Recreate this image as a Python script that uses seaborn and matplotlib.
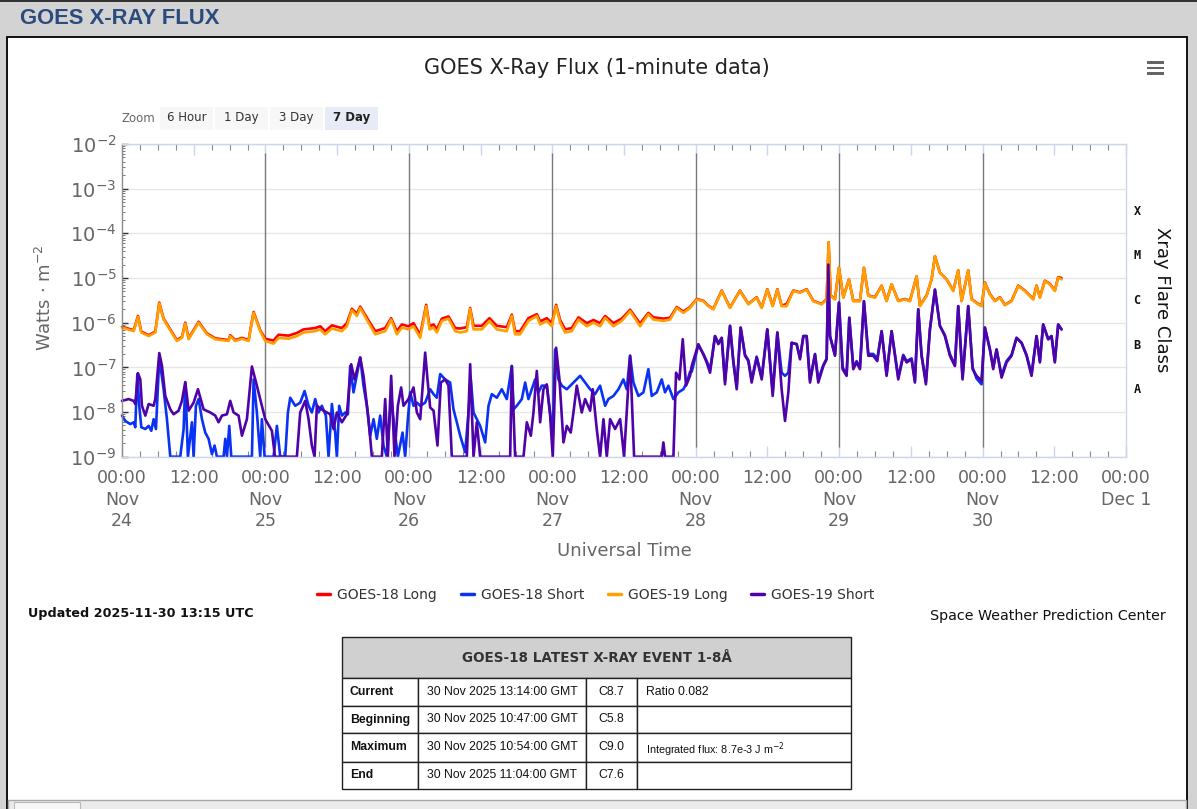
import matplotlib
matplotlib.use("Agg")
import matplotlib.pyplot as plt
import matplotlib.transforms as mtransforms
from matplotlib import font_manager
from matplotlib.patches import Rectangle
from matplotlib.lines import Line2D
from matplotlib.ticker import FixedLocator, LogLocator, NullFormatter
import numpy as np
import seaborn as sns

# -----------------------------
# Data (hours since 2025-11-24 00:00 UTC, log10 of flux in W/m^2)
# -----------------------------
long_hours = [
    0.0, 1.95, 2.67, 3.23, 4.46, 5.57, 6.24, 6.96, 9.19, 10.03, 10.59, 11.15, 12.82, 14.21, 15.61,
    17.84, 18.11, 18.95, 20.07, 21.18, 22.02, 23.13, 23.97,
    25.36, 26.20, 27.87, 29.26, 30.38, 32.33, 33.17, 34.00, 35.12, 36.79, 37.63, 38.46, 39.30, 39.86,
    41.25, 42.37, 44.04, 45.04, 45.99, 46.83, 47.94,
    48.78, 49.90, 50.90, 51.46, 52.13, 52.68, 53.52, 54.63, 55.75, 56.59, 57.70, 58.26, 58.82, 60.21,
    61.49, 62.72, 64.39, 65.23, 65.78, 66.62, 68.01, 69.41, 69.97, 71.08, 71.92,
    72.64, 73.31, 74.15, 75.26, 76.38, 77.77, 78.89, 80.00, 80.84, 82.23, 83.62, 85.02, 86.69, 88.08,
    88.92, 90.59, 91.71, 92.82, 93.94, 95.05,
    96.17, 97.28, 98.12, 98.95, 100.35, 101.74, 103.41, 104.81, 106.20, 107.04, 107.98, 108.88, 109.66,
    110.38, 111.22, 112.33, 113.45, 114.56, 115.68, 117.07, 117.91, 118.24, 118.58, 119.30, 119.97,
    120.70, 121.64, 122.37, 123.48, 124.15, 124.88, 125.99, 127.11, 127.94, 128.78, 129.89, 131.01,
    131.85, 132.96, 133.52, 134.63, 135.47, 136.03, 136.86, 137.98, 139.09, 139.93, 140.49, 141.60,
    142.16, 143.27, 143.83,
    144.39, 145.23, 146.06, 146.90, 147.73, 148.85, 149.96, 151.08, 152.47, 153.03, 153.59, 154.42,
    155.26, 156.09, 156.65, 157.21,
]

g19_long = [
    -6.11, -6.19, -5.87, -6.22, -6.30, -6.22, -5.57, -5.93, -6.41, -6.34, -6.02, -6.37, -6.00, -6.26, -6.37,
    -6.41, -6.30, -6.41, -6.36, -6.41, -5.78, -6.19, -6.41,
    -6.47, -6.34, -6.36, -6.30, -6.22, -6.19, -6.15, -6.26, -6.13, -6.19, -6.08, -5.72, -5.85, -5.67,
    -6.00, -6.26, -6.19, -5.93, -6.26, -6.11, -6.15,
    -6.08, -6.34, -5.63, -6.15, -6.11, -6.22, -5.96, -5.91, -6.19, -6.22, -6.19, -5.69, -6.15, -6.15,
    -5.96, -6.15, -6.19, -5.85, -6.26, -6.26, -5.96, -5.85, -6.04, -5.96, -6.08,
    -5.63, -6.00, -6.22, -6.19, -5.93, -6.08, -6.00, -6.08, -5.89, -6.08, -5.96, -5.74, -6.08, -5.81,
    -5.93, -5.96, -5.93, -5.67, -5.78, -5.67,
    -5.48, -5.52, -5.63, -5.70, -5.29, -5.67, -5.29, -5.59, -5.44, -5.67, -5.26, -5.63, -5.26,
    -5.63, -5.63, -5.29, -5.33, -5.26, -5.52, -5.59, -5.48, -4.20, -5.40, -5.48, -4.77,
    -5.44, -5.03, -5.52, -5.52, -4.77, -5.40, -5.44, -5.18, -5.52, -5.14, -5.52, -5.48,
    -5.52, -4.96, -5.63, -5.40, -5.03, -4.51, -4.88, -5.03, -5.29, -4.83, -5.52, -4.83,
    -5.48, -5.59, -5.63,
    -5.11, -5.37, -5.52, -5.44, -5.61, -5.52, -5.18, -5.29, -5.48, -5.18, -5.44, -5.07,
    -5.14, -5.29, -4.99, -5.03,
]

g18_long = [
    -6.09, -6.17, -5.85, -6.20, -6.28, -6.20, -5.55, -5.91, -6.39, -6.32, -6.00, -6.35, -5.98, -6.24, -6.35,
    -6.39, -6.28, -6.39, -6.34, -6.39, -5.76, -6.17, -6.36,
    -6.40, -6.27, -6.29, -6.23, -6.15, -6.12, -6.08, -6.19, -6.06, -6.12, -6.01, -5.69, -5.80, -5.64,
    -5.95, -6.19, -6.12, -5.90, -6.19, -6.04, -6.08,
    -6.01, -6.27, -5.60, -6.08, -6.04, -6.15, -5.91, -5.86, -6.12, -6.13, -6.10, -5.67, -6.07, -6.07,
    -5.90, -6.07, -6.10, -5.82, -6.19, -6.19, -5.90, -5.81, -5.97, -5.90, -6.01,
    -5.60, -5.94, -6.15, -6.12, -5.88, -6.01, -5.94, -6.01, -5.85, -6.01, -5.91, -5.71, -6.02, -5.78,
    -5.88, -5.91, -5.89, -5.65, -5.75, -5.65,
    -5.47, -5.51, -5.62, -5.69, -5.28, -5.66, -5.28, -5.58, -5.43, -5.66, -5.25, -5.62, -5.25,
    -5.62, -5.58, -5.28, -5.32, -5.25, -5.51, -5.58, -5.47, -4.20, -5.39, -5.47, -4.77,
    -5.43, -5.03, -5.51, -5.51, -4.77, -5.39, -5.43, -5.17, -5.51, -5.14, -5.51, -5.47,
    -5.51, -4.96, -5.62, -5.39, -5.03, -4.51, -4.88, -5.03, -5.28, -4.83, -5.51, -4.83,
    -5.47, -5.58, -5.62,
    -5.10, -5.36, -5.51, -5.43, -5.60, -5.51, -5.17, -5.28, -5.47, -5.17, -5.43, -5.06,
    -5.13, -5.28, -4.98, -5.00,
]

# short channel, first four days (values of -9.0 sit on the plot floor)
g19_short_early_hours = [
    0.0, 1.11, 1.95, 2.22, 2.67, 3.06, 3.34, 3.90, 4.46, 5.29, 5.57, 6.24, 6.69, 7.24, 8.08, 8.64,
    9.47, 10.03, 10.59, 11.15, 11.98, 12.71, 13.65, 14.77, 15.61, 16.16, 16.72, 17.56, 18.11, 18.67,
    19.51, 20.07, 20.90, 21.74, 22.30, 23.13, 23.97, 25.08, 25.60, 29.26, 29.82, 30.66, 31.22, 31.77,
    32.22, 32.61, 33.72, 34.84, 35.40, 35.95, 36.79, 37.63, 38.35, 38.91, 39.86, 40.41, 41.25, 41.81,
    43.48, 44.04, 44.48, 45.04, 45.60, 46.16, 46.71, 47.10, 47.94, 48.78, 49.34, 49.90, 50.73, 51.12,
    51.57, 52.13, 52.79, 53.35, 54.08, 54.63, 55.19, 57.70, 58.26, 58.82, 59.37, 59.93, 64.95, 65.23,
    65.78, 67.18, 67.74, 68.41, 68.85, 69.41, 69.97, 70.52, 71.08, 71.64, 72.08, 72.64, 73.20, 73.87,
    74.43, 75.09, 75.54, 76.10, 76.93, 77.49, 78.33, 78.77, 79.44, 80.00, 80.56, 81.12, 81.67, 82.51,
    83.35, 84.01, 85.02, 85.69, 90.31, 90.59, 90.87, 92.27, 92.71, 93.27, 93.83, 94.38, 95.05,
]
g19_short_early = [
    -7.75, -7.71, -7.75, -7.82, -7.13, -7.27, -7.86, -8.08, -7.82, -7.86, -7.71, -6.68, -6.97, -7.64, -7.94, -8.05,
    -7.97, -7.75, -7.33, -7.97, -7.79, -7.49, -7.94, -8.01, -8.08, -8.23, -8.08, -8.05, -7.75, -8.01,
    -8.08, -8.53, -8.16, -6.98, -7.27, -7.71, -8.16, -8.42, -9.00, -9.00, -8.01, -7.75, -8.16, -8.75,
    -9.00, -7.86, -7.97, -8.05, -8.38, -8.01, -8.23, -8.05, -6.93, -7.27, -6.78, -7.19, -8.16, -9.00,
    -9.00, -7.71, -9.00, -7.19, -9.00, -7.86, -7.45, -7.86, -7.71, -7.45, -8.01, -8.16, -6.67, -7.27,
    -7.90, -7.97, -8.75, -7.34, -7.27, -7.41, -9.00, -9.00, -6.93, -9.00, -8.23, -9.00, -9.00, -6.97,
    -9.00, -9.00, -8.23, -8.53, -8.01, -7.08, -8.23, -7.49, -7.38, -8.08, -9.00, -6.56, -7.27, -8.68,
    -8.31, -8.46, -8.01, -7.41, -8.01, -7.71, -7.97, -7.49, -8.38, -9.00, -8.16, -9.00, -8.16, -8.38,
    -8.16, -9.00, -6.74, -9.00, -9.00, -8.68, -9.00, -9.00, -7.12, -7.27, -6.37, -7.41, -7.19,
]

g18_short_early_hours = [
    0.0, 0.55, 1.39, 1.95, 2.22, 2.56, 2.89, 3.23, 3.90, 4.46, 4.90, 5.29, 5.68, 6.24, 6.96, 7.52,
    8.08, 9.75, 10.31, 10.59, 11.03, 11.70, 11.98, 12.37, 12.82, 13.38, 13.93, 14.49, 15.05, 15.49,
    15.88, 17.00, 17.28, 17.56, 17.95, 18.28, 21.74, 22.02, 22.57, 23.13, 23.41, 23.86, 25.36, 25.92,
    26.48, 27.31, 27.76, 28.15, 28.99, 29.82, 30.55, 31.22, 31.77, 32.33, 32.89, 33.44, 34.11, 34.56,
    35.12, 35.67, 35.95, 36.34, 36.79, 37.35, 37.79, 38.18, 38.74, 39.86, 40.41, 40.97, 41.53, 42.09,
    42.64, 43.20, 43.76, 44.32, 45.04, 45.60, 46.16, 46.94, 47.38, 47.83, 48.22, 48.78, 49.34, 49.90,
    50.73, 51.57, 52.13, 52.68, 53.24, 54.08, 54.91, 55.47, 56.03, 56.59, 57.42, 57.98, 58.37, 58.82,
    59.37, 59.93, 60.77, 61.33, 61.88, 62.72, 63.55, 64.39, 65.23, 65.51, 66.06, 66.90, 67.46, 68.01,
    68.57, 69.13, 69.69, 70.24, 71.08, 71.64, 72.08, 72.47, 73.03, 73.59, 74.43, 75.54, 76.66, 77.49,
    78.33, 79.16, 80.00, 80.84, 81.39, 82.23, 83.07, 83.90, 84.46, 85.02, 85.58, 86.41, 87.25, 88.08,
    88.64, 89.48, 90.31, 90.87, 91.43, 92.27, 93.10, 93.94, 94.50, 95.05,
]
g18_short_early = [
    -8.08, -8.20, -8.27, -8.23, -8.34, -7.15, -7.86, -8.34, -8.38, -8.31, -8.42, -8.16, -8.38, -6.78, -7.49, -8.16,
    -9.00, -9.00, -8.38, -7.34, -9.00, -8.23, -9.00, -7.86, -7.71, -8.16, -8.46, -8.60, -8.94, -8.75,
    -9.00, -9.00, -8.60, -9.00, -8.31, -9.00, -9.00, -7.27, -8.01, -9.00, -8.16, -9.00, -9.00, -8.31,
    -9.00, -9.00, -8.01, -7.68, -7.86, -7.79, -7.53, -7.86, -8.01, -7.71, -8.01, -7.86, -8.08, -9.00,
    -7.82, -8.46, -9.00, -7.86, -8.08, -8.01, -8.05, -6.97, -7.56, -6.78, -7.41, -7.86, -8.53, -8.16,
    -8.60, -8.08, -8.75, -9.00, -7.64, -8.38, -9.00, -8.46, -9.00, -8.16, -7.56, -7.86, -7.79, -7.86,
    -7.79, -7.49, -7.60, -7.68, -7.15, -7.27, -7.34, -7.94, -8.23, -8.53, -8.90, -8.01, -7.27, -8.01,
    -8.16, -8.31, -8.68, -7.86, -7.60, -7.68, -7.49, -7.71, -6.97, -7.94, -7.86, -7.71, -7.34, -7.71,
    -7.49, -7.27, -7.56, -7.41, -7.41, -8.01, -8.53, -6.60, -7.27, -7.41, -7.49, -7.34, -7.19, -7.34,
    -7.49, -7.60, -7.41, -7.86, -7.71, -7.64, -7.49, -7.27, -7.49, -6.74, -7.34, -7.64, -7.56, -7.04,
    -7.64, -7.56, -7.27, -7.56, -7.41, -7.71, -7.56, -7.49, -7.34, -7.10,
]

# short channel, last three days
short_late_hours = [
    95.33, 96.44, 97.28, 97.84, 98.40, 99.23, 99.79, 100.35, 100.90, 101.74, 102.30, 102.86, 103.52,
    104.25, 104.81, 105.36, 106.20, 107.04, 107.98, 108.88, 109.66, 110.38, 110.94, 111.50, 112.05,
    112.89, 113.45, 114.01, 114.56, 115.12, 115.96, 116.51, 117.35, 117.91, 118.19, 118.47, 119.30,
    119.97, 120.58, 121.25, 121.70, 122.37, 122.92, 123.48, 124.15, 124.88, 125.71, 126.38, 127.11,
    127.94, 128.78, 129.89, 130.73, 131.29, 132.12, 132.68, 133.24, 133.79, 134.52, 135.19, 136.03,
    136.86, 137.70, 138.53, 139.37, 139.93, 140.65, 141.60, 142.33, 142.99, 143.83, 144.39, 145.23,
    145.78, 146.34, 147.18, 148.01, 148.85, 149.68, 150.52, 151.36, 152.19, 153.03, 153.59, 154.14,
    154.98, 155.54, 156.09, 156.65, 157.21,
]
g19_short_late = [
    -6.97, -6.48, -6.71, -6.89, -7.12, -6.30, -6.48, -6.34, -7.38, -6.07, -6.89, -7.49, -6.11,
    -6.74, -6.86, -7.34, -6.78, -7.27, -6.15, -7.64, -6.22, -7.49, -8.20, -7.56, -6.45,
    -6.48, -6.82, -6.30, -6.30, -7.34, -6.71, -7.34, -6.97, -6.82, -4.70, -6.30, -6.74,
    -5.55, -7.04, -7.19, -5.89, -7.04, -6.89, -7.04, -5.52, -6.74, -6.74, -6.86, -6.19,
    -7.19, -6.19, -7.27, -6.74, -6.89, -6.82, -7.34, -5.70, -6.74, -7.38, -6.15, -5.26,
    -6.07, -6.30, -6.74, -6.97, -5.63, -7.27, -5.63, -7.04, -7.19, -7.30, -6.11, -6.60,
    -7.04, -6.60, -7.23, -6.89, -6.74, -6.34, -6.45, -6.74, -7.19, -6.30, -6.89, -6.04,
    -6.37, -6.30, -6.89, -6.04, -6.15,
]
g18_short_late = [
    -7.10, -6.50, -6.70, -6.86, -7.05, -6.30, -6.46, -6.34, -7.30, -6.07, -6.86, -7.42, -6.11,
    -6.72, -6.84, -7.28, -6.76, -7.22, -6.15, -7.55, -6.22, -7.12, -7.19, -7.12, -6.45,
    -6.48, -6.78, -6.30, -6.30, -7.28, -6.70, -7.28, -6.95, -6.80, -4.70, -6.30, -6.72,
    -5.55, -7.00, -7.15, -5.89, -7.00, -6.86, -7.00, -5.52, -6.70, -6.70, -6.80, -6.19,
    -7.15, -6.19, -7.22, -6.72, -6.86, -6.80, -7.30, -5.70, -6.72, -7.32, -6.15, -5.26,
    -6.07, -6.28, -6.70, -6.95, -5.63, -7.22, -5.63, -7.00, -7.25, -7.38, -6.11, -6.60,
    -7.00, -6.60, -7.18, -6.86, -6.72, -6.34, -6.45, -6.72, -7.15, -6.30, -6.86, -6.04,
    -6.37, -6.30, -6.86, -6.04, -6.15,
]

series_names = ["GOES-18 Long", "GOES-18 Short", "GOES-19 Long", "GOES-19 Short"]
series_colors = ["#ff0000", "#0a32f5", "#ff9f00", "#4f02a8"]

flare_classes = ["A", "B", "C", "M", "X"]
flare_class_floor = [-8, -7, -6, -5, -4]

day_labels = ["Nov\n24", "Nov\n25", "Nov\n26", "Nov\n27", "Nov\n28", "Nov\n29", "Nov\n30", "Dec 1"]

zoom_buttons = ["6 Hour", "1 Day", "3 Day", "7 Day"]

table_title = "GOES-18 LATEST X-RAY EVENT 1-8Å"
table_rows = [
    ["Current", "30 Nov 2025 13:14:00 GMT", "C8.7", "Ratio 0.082"],
    ["Beginning", "30 Nov 2025 10:47:00 GMT", "C5.8", ""],
    ["Maximum", "30 Nov 2025 10:54:00 GMT", "C9.0", "Integrated flux: 8.7e-3 J m$^{-2}$"],
    ["End", "30 Nov 2025 11:04:00 GMT", "C7.6", ""],
]

# -----------------------------
# Style / helpers
# -----------------------------
sns.set_theme(style="white")
plt.rcParams["font.family"] = ["DejaVu Sans"]


def pick_font(name, fallback):
    try:
        font_manager.findfont(font_manager.FontProperties(family=name), fallback_to_default=False)
        return name, 1.0
    except ValueError:
        return fallback, 0.78


NARROW, NSCALE = pick_font("Liberation Sans Narrow", "DejaVu Sans")
ARIAL = ["Liberation Sans", "DejaVu Sans"]

W, H = 1197, 809


def fx(px):
    return px / W


def fy(py):
    return 1 - py / H


def box(fig, x0, y0, x1, y1, zorder=-5, **kw):
    r = Rectangle((fx(x0), fy(y1)), (x1 - x0) / W, (y1 - y0) / H,
                  transform=fig.transFigure, zorder=zorder, **kw)
    fig.add_artist(r)
    return r


fig = plt.figure(figsize=(W / 100, H / 100), dpi=100)
fig.patch.set_facecolor("#d3d3d3")

# page chrome
box(fig, 0, 0, W, 1.5, facecolor="#333333", edgecolor="none")
fig.text(fx(20), fy(19), "GOES X-RAY FLUX", fontsize=15.8, fontweight="bold",
         color="#2b4a7d", family=ARIAL, ha="left", va="center")
box(fig, 7, 37, 1187, 812, facecolor="white", edgecolor="black", linewidth=1.3)
box(fig, 8, 800, 1186, 812, facecolor="#ebebeb", edgecolor="#a8a8a8", linewidth=1)
box(fig, 14, 802, 80, 812, facecolor="#f7f7f7", edgecolor="#b8b8b8", linewidth=0.8)

# -----------------------------
# Main plot
# -----------------------------
left, right, top, bottom = 122, 1126, 144, 456.7
ax = fig.add_axes([fx(left), fy(bottom), (right - left) / W, (bottom - top) / H])
ax.set_zorder(2)
ax.set_yscale("log")

series = [
    (long_hours, g18_long),
    (g18_short_early_hours + short_late_hours, g18_short_early + g18_short_late),
    (long_hours, g19_long),
    (g19_short_early_hours + short_late_hours, g19_short_early + g19_short_late),
]
for (hrs, logs), color in zip(series, series_colors):
    sns.lineplot(x=hrs, y=10.0 ** np.array(logs), ax=ax, color=color, linewidth=1.9,
                 estimator=None, sort=False, clip_on=False, solid_joinstyle="round", legend=False)

ax.set_xlim(0, 168)
ax.set_ylim(1e-9, 1e-2)

# day separators
ax.vlines(np.arange(24, 168, 24), 10 ** -8.78, 10 ** -2.2, color="#7a7a7a", linewidth=1, zorder=1)

# grid
for e in range(-9, -1):
    ax.axhline(10.0 ** e, color="#e6e6e6", linewidth=1, zorder=0)

for side in ["top", "right", "bottom"]:
    ax.spines[side].set_color("#ccd6eb")
    ax.spines[side].set_linewidth(1)
ax.spines["left"].set_color("#8c8c8c")
ax.spines["left"].set_linewidth(1)

ax.yaxis.set_major_locator(FixedLocator([10.0 ** e for e in range(-9, -1)]))
ax.set_yticklabels([r"$10^{%d}$" % e for e in range(-9, -1)])
ax.yaxis.set_minor_locator(LogLocator(base=10, subs=np.arange(2, 10), numticks=20))
ax.yaxis.set_minor_formatter(NullFormatter())
ax.tick_params(axis="y", which="major", direction="in", length=4, width=1, color="#333333",
               labelsize=14, labelcolor="#666666", pad=4, left=True, right=False)
ax.tick_params(axis="y", which="minor", direction="in", length=2.5, width=0.7, color="#777777",
               left=True, right=False)

xt = list(range(0, 169, 12))
xl = []
for h in xt:
    if h % 24 == 0:
        xl.append("00:00\n" + day_labels[h // 24])
    else:
        xl.append("12:00")
ax.set_xticks(xt)
ax.set_xticklabels(xl, linespacing=1.25)
ax.set_xticks(range(0, 169, 3), minor=True)
ax.tick_params(axis="x", which="major", direction="in", length=8, width=1, color="#ccd6eb",
               labelsize=12.5, labelcolor="#666666", pad=9, bottom=True, top=True)
ax.tick_params(axis="x", which="minor", direction="in", length=4, width=0.8, color="#888888",
               bottom=True, top=True)

ax.set_ylabel("")
ax.set_xlabel("")
fig.text(fx(45), fy(298), "Watts · m$^{-2}$", rotation=90, ha="center", va="center",
         fontsize=13, color="#666666")
fig.text(fx(624), fy(551), "Universal Time", ha="center", va="center", fontsize=13, color="#666666")

# flare classes on the right
trans = mtransforms.blended_transform_factory(ax.transAxes, ax.transData)
for name, lo in zip(flare_classes, flare_class_floor):
    ax.text(1.0075, 10.0 ** (lo + 0.5), name, transform=trans, ha="left", va="center",
            fontsize=8.5, fontweight="bold", family="DejaVu Sans Mono", color="#111111")
fig.text(fx(1162), fy(300), "Xray Flare Class", rotation=270, ha="center", va="center",
         fontsize=13, color="#111111")

# -----------------------------
# Title, zoom buttons, menu
# -----------------------------
fig.text(fx(597), fy(68), "GOES X-Ray Flux (1-minute data)", ha="center", va="center",
         fontsize=15, color="#222222")
for yy in (62.5, 68, 73.5):
    box(fig, 1147, yy - 1.2, 1164, yy + 1.2, zorder=3, facecolor="#666666", edgecolor="none")

fig.text(fx(122), fy(118), "Zoom", ha="left", va="center", fontsize=8.5, color="#666666")
bx = 160
for i, label in enumerate(zoom_buttons):
    selected = i == len(zoom_buttons) - 1
    box(fig, bx, 107, bx + 53, 130, facecolor="#e6ebf5" if selected else "#f7f7f7",
        edgecolor="none")
    fig.text(fx(bx + 26.5), fy(117.5), label, ha="center", va="center", fontsize=8.5,
             color="#222222" if selected else "#333333",
             fontweight="bold" if selected else "normal")
    bx += 55

# -----------------------------
# Legend and captions
# -----------------------------
handles = [Line2D([], [], color=c, linewidth=2.5) for c in series_colors]
fig.legend(handles, series_names, loc="center", bbox_to_anchor=(fx(596), fy(595)), ncol=4,
           frameon=False, handlelength=0.95, handletextpad=0.5, columnspacing=1.7,
           prop={"family": NARROW, "size": 12.8 * NSCALE}, labelcolor="#333333")

fig.text(fx(28), fy(613), "Updated 2025-11-30 13:15 UTC", ha="left", va="center",
         fontsize=11.8 * NSCALE, fontweight="bold", family=NARROW, color="#111111")
fig.text(fx(1166), fy(616), "Space Weather Prediction Center", ha="right", va="center",
         fontsize=13.2 * NSCALE, family=NARROW, color="#111111")

# -----------------------------
# Event table
# -----------------------------
col_x = [342, 418, 586, 637, 851]
row_y = [678, 706, 733, 762, 789]
box(fig, col_x[0], 637, col_x[-1], 678, facecolor="#d0d0d0", edgecolor="#222222", linewidth=1)
fig.text(fx((col_x[0] + col_x[-1]) / 2), fy(658), table_title, ha="center", va="center",
         fontsize=12.5 * NSCALE, fontweight="bold", family=NARROW, color="#333333")
for r, row in enumerate(table_rows):
    y0, y1 = row_y[r], row_y[r + 1]
    for c, cell in enumerate(row):
        box(fig, col_x[c], y0, col_x[c + 1], y1, facecolor="white", edgecolor="#222222",
            linewidth=1)
        if not cell:
            continue
        yc = (y0 + y1) / 2
        if c == 0:
            fig.text(fx(col_x[c] + 8), fy(yc), cell, ha="left", va="center", fontsize=8.8,
                     fontweight="bold", family=ARIAL, color="#111111")
        elif c == 2:
            fig.text(fx((col_x[c] + col_x[c + 1]) / 2), fy(yc), cell, ha="center", va="center",
                     fontsize=8.8, family=ARIAL, color="#111111")
        elif c == 3 and "$" in cell:
            fig.text(fx(col_x[c] + 9), fy(yc + 2), cell, ha="left", va="center", fontsize=7.8,
                     family=ARIAL, color="#111111")
        else:
            fig.text(fx(col_x[c] + 9), fy(yc), cell, ha="left", va="center", fontsize=8.8,
                     family=ARIAL, color="#111111")

fig.savefig("out.png", dpi=100, facecolor=fig.get_facecolor())
